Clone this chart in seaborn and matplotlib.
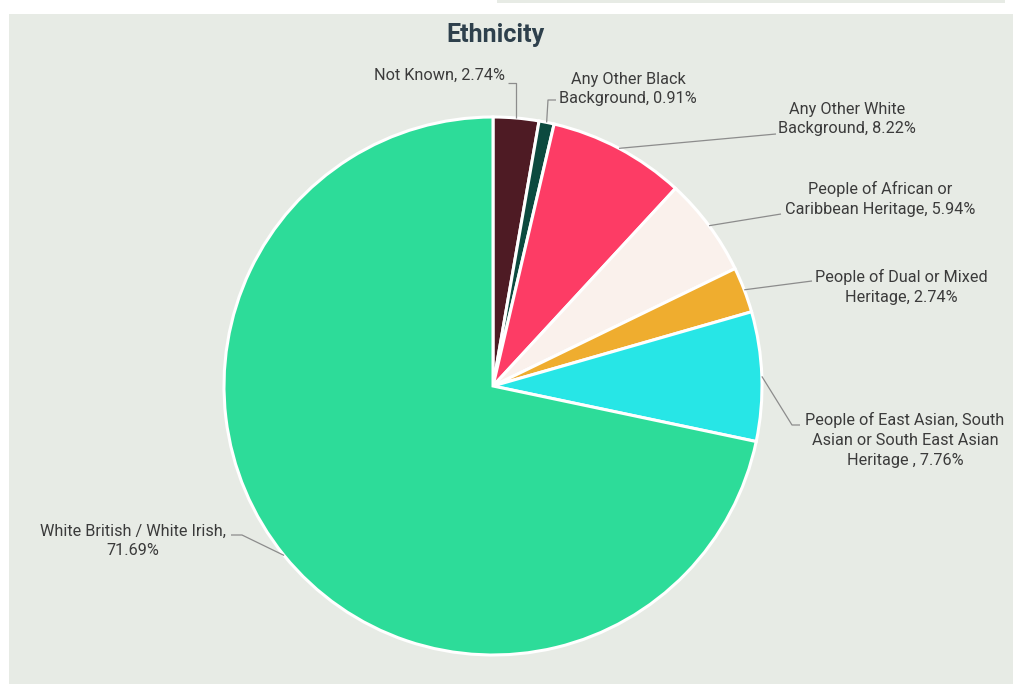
import matplotlib
matplotlib.use("Agg")
import matplotlib.pyplot as plt
import seaborn as sns
import numpy as np
from matplotlib.patches import Rectangle

# ---- data -------------------------------------------------------------
categories = [
    "Not Known",
    "Any Other Black Background",
    "Any Other White Background",
    "People of African or Caribbean Heritage",
    "People of Dual or Mixed Heritage",
    "People of East Asian, South Asian or South East Asian Heritage ",
    "White British / White Irish",
]
shares = [2.74, 0.91, 8.22, 5.94, 2.74, 7.76, 71.69]
label_templates = [
    "Not Known, {}",
    "Any Other Black\nBackground, {}",
    "Any Other White\nBackground, {}",
    "People of African or\nCaribbean Heritage, {}",
    "People of Dual or Mixed\nHeritage, {}",
    "People of East Asian, South\nAsian or South East Asian\nHeritage , {}",
    "White British / White Irish,\n{}",
]
colors = ["#4e1b24", "#0c4a3f", "#fd3c65", "#faf1ec", "#efad2f", "#27e6e6", "#2ddc99"]

# ---- style ------------------------------------------------------------
sns.set_theme(style="white")
plt.rcParams["font.family"] = ["Roboto", "DejaVu Sans"]

W, H = 1013, 684
fig = plt.figure(figsize=(W / 100, H / 100), dpi=100, facecolor="white")
ax = fig.add_axes([0, 0, 1, 1])


def py(y):
    """Convert a top-down pixel row to the upward data axis."""
    return H - y


# ---- pie --------------------------------------------------------------
cx, cy, radius = 493, py(386), 269
wedges, _ = ax.pie(
    shares,
    colors=colors,
    startangle=90,
    counterclock=False,
    center=(cx, cy),
    radius=radius,
    frame=True,
    wedgeprops=dict(edgecolor="white", linewidth=2.2),
)
ax.set_xlim(0, W)
ax.set_ylim(0, H)
ax.set_aspect("equal")
ax.axis("off")

# panel backgrounds
bg = "#e7ebe5"
ax.add_patch(Rectangle((9, 0), W - 9, py(14), facecolor=bg, edgecolor="none", zorder=-2))
ax.add_patch(Rectangle((497, py(3)), 508, 3, facecolor=bg, edgecolor="none", zorder=-2))

ax.text(495, py(35), "Ethnicity", ha="center", va="center",
        fontsize=18, fontweight="bold", color="#2e404c")

# label placement: text centre, alignment, leader waypoints (pixel rows)
label_pos = [(505, 75), (628, 89), (847, 119), (880, 199), (901, 287), (905, 440), (133, 541)]
label_ha = ["right", "center", "center", "center", "center", "center", "center"]
leader_via = [
    [(None, 83), (508, 83)],
    [(548, 100), (556, 100)],
    [(776, 134)],
    [(781, 214)],
    [(812, 281)],
    [(792, 425), (800, 425)],
    [(242, 535), (231, 535)],
]

text_color = "#3b3b3b"
line_color = "#8c8c8c"
for w, v, tmpl, (tx, ty), ha, via in zip(wedges, shares, label_templates,
                                         label_pos, label_ha, leader_via):
    ang = np.deg2rad((w.theta1 + w.theta2) / 2)
    ex = cx + radius * np.cos(ang)
    ey = cy + radius * np.sin(ang)
    xs, ys = [ex], [ey]
    for px_, pyy in via:
        xs.append(ex if px_ is None else px_)
        ys.append(py(pyy))
    ax.plot(xs, ys, color=line_color, linewidth=0.9, zorder=1, solid_capstyle="butt")
    ax.text(tx, py(ty), tmpl.format(f"{v:.2f}%"), ha=ha, va="center",
            multialignment="center", fontsize=11.7, color=text_color, linespacing=1.38)

fig.savefig("out.png", dpi=100, facecolor="white")
